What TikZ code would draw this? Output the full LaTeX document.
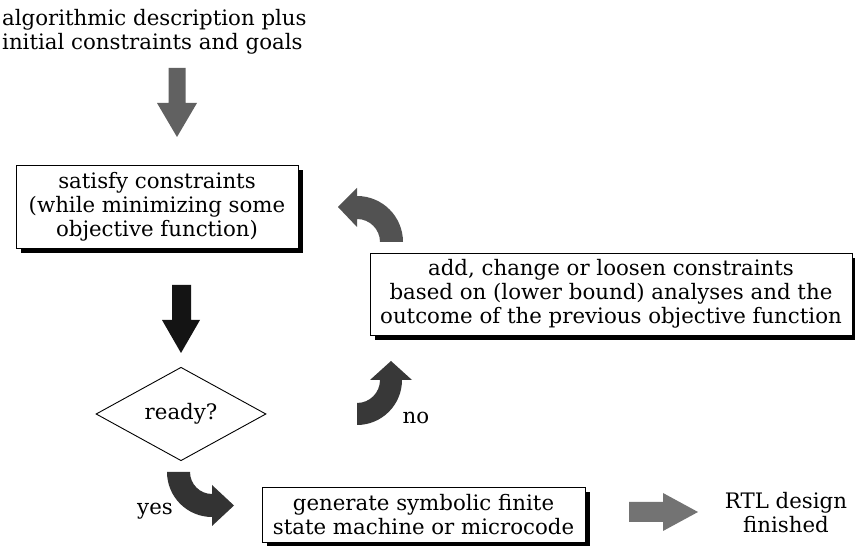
\documentclass[tikz,border=0pt]{standalone}
\usepackage{fontspec}
\setmainfont{DejaVu Serif}
\usetikzlibrary{shapes.geometric,shadows}
\tikzset{
  txt/.style={font=\fontsize{21.3}{24}\selectfont, inner sep=0pt, align=center},
  sbox/.style={txt, draw=black, line width=0.9pt, fill=white,
    drop shadow={shadow xshift=5pt, shadow yshift=-5pt, fill=black, opacity=1}},
}
\begin{document}
\begin{tikzpicture}[x=1pt,y=1pt]
\useasboundingbox (0,0) rectangle (855,546);
\fill[white] (0,0) rectangle (855,546);

% texts and boxes
\node[txt, align=left, anchor=north west] (input) at (2,537)
  {algorithmic description plus\\initial constraints and goals};
\node[sbox, minimum width=282pt, minimum height=83pt] (satisfy) at (157,339.5)
  {satisfy constraints\\(while minimizing some\\objective function)};
\node[sbox, minimum width=482pt, minimum height=82pt] (change) at (611,252)
  {add, change or loosen constraints\\based on (lower bound) analyses and the\\outcome of the previous objective function};
\node[txt, diamond, draw=black, line width=0.9pt, minimum width=170pt, minimum height=74pt] (ready) at (181,132) {ready?};
\node[sbox, minimum width=323pt, minimum height=55pt] (generate) at (423.5,31.5)
  {generate symbolic finite\\state machine or microcode};
\node[txt] (rtl) at (786,33) {RTL design\\finished};
\node[txt] (no) at (416,128) {no};
\node[txt] (yes) at (155,35) {yes};

% straight block arrows
\fill[black!62] (168.5,478) -- (185.5,478) -- (185.5,443) -- (197,443) -- (177,409)
  -- (157,443) -- (168.5,443) -- cycle;
\fill[black!92] (172,261) -- (191,261) -- (191,226) -- (200,226) -- (181,193)
  -- (162,226) -- (172,226) -- cycle;
\fill[black!55] (629,44) -- (663,44) -- (663,53) -- (698,34) -- (663,15)
  -- (663,24) -- (629,24) -- cycle;

% curved block arrows
\fill[black!68] (380,304) -- (403,304) arc[start angle=0, end angle=90, radius=46]
  -- (357,358) -- (338,339) -- (357,319) -- (357,327)
  arc[start angle=90, end angle=0, radius=23] -- cycle;
\fill[black!78] (357,143) -- (357,121) arc[start angle=270, end angle=360, radius=45]
  -- (412,166) -- (391,185) -- (370,166) -- (380,166)
  arc[start angle=360, end angle=270, radius=23] -- cycle;
\fill[black!80] (190,74) -- (167,74) arc[start angle=180, end angle=270, radius=45]
  -- (212,20) -- (234,40.5) -- (212,61) -- (212,52)
  arc[start angle=270, end angle=180, radius=22] -- cycle;
\end{tikzpicture}
\end{document}
